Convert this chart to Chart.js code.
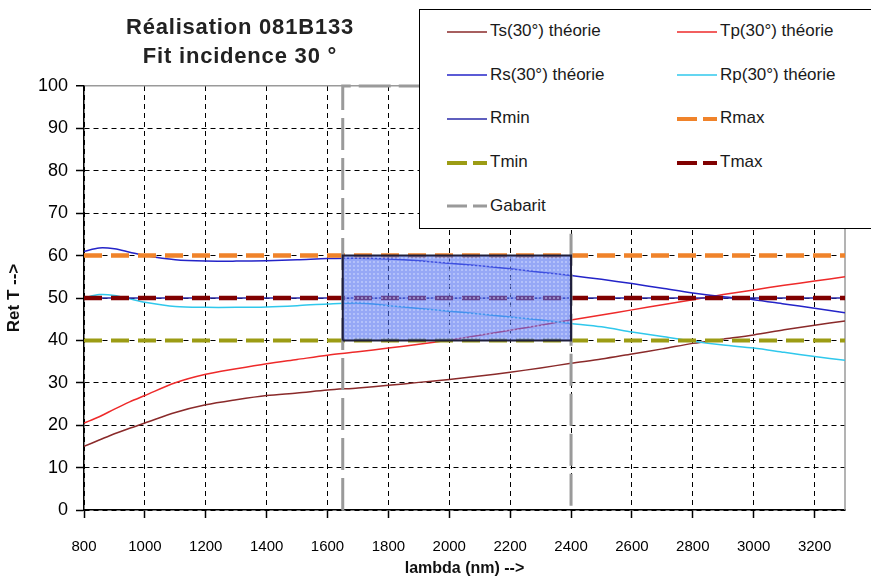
<!DOCTYPE html>
<html>
<head>
<meta charset="utf-8">
<script src="https://cdn.jsdelivr.net/npm/chart.js@4/dist/chart.umd.min.js"></script>
<style>
  body { margin: 0; background: #fff; font-family: "Liberation Sans", Arial, sans-serif; }
  #wrap { position: relative; width: 871px; height: 584px; overflow: hidden; }
  .title { position: absolute; left: 0; width: 480px; text-align: center; font-weight: bold; font-size: 22px; line-height: 26px; letter-spacing: 0.8px; color: #222; }
  #legend { position: absolute; left: 419px; top: 9px; width: 470px; height: 218px; border: 1.5px solid #000; background: #fff; }
  .item { position: absolute; height: 20px; font-size: 17px; line-height: 20px; color: #1a1a1a; white-space: nowrap; }
  .item svg { vertical-align: middle; margin-right: 3px; }
</style>
</head>
<body>
<div id="wrap">
  <canvas id="chart" width="871" height="584"></canvas>
  <div class="title" style="top:14px">Réalisation 081B133</div>
  <div class="title" style="top:43px">Fit incidence 30 °</div>
  <div id="legend"></div>
</div>
<script>
// longueurs d'onde (nm)
const lambda = [800, 850, 900, 950, 1000, 1100, 1200, 1300, 1400, 1500, 1600, 1700, 1800, 1900, 2000,
  2100, 2200, 2300, 2400, 2500, 2600, 2700, 2800, 2900, 3000, 3100, 3200, 3300];

// courbes théoriques (%)
const tsTheory = [15, 16.5, 18, 19.3, 20.5, 23, 24.8, 26, 27, 27.6, 28.3, 28.8, 29.4, 30.1, 30.8,
  31.6, 32.5, 33.5, 34.6, 35.6, 36.8, 38, 39.3, 40.3, 41.3, 42.5, 43.6, 44.6];
const tpTheory = [20.5, 22, 23.8, 25.5, 27, 30, 32, 33.3, 34.5, 35.5, 36.5, 37.3, 38.2, 39.1, 40.1,
  41.2, 42.4, 43.6, 44.8, 46, 47.2, 48.4, 49.6, 50.8, 51.9, 53, 54, 55];
const rsTheory = [61, 61.8, 61.6, 60.8, 60, 59, 58.7, 58.7, 58.8, 59, 59.3, 59.4, 59.2, 58.8, 58.2,
  57.6, 56.9, 56.1, 55.3, 54.4, 53.4, 52.3, 51.2, 50.3, 49.6, 48.6, 47.6, 46.5];
const rpTheory = [50, 50.8, 50.6, 49.8, 49, 48, 47.8, 47.8, 47.9, 48.2, 48.6, 48.8, 48.2, 47.5, 46.9,
  46.2, 45.5, 44.8, 44, 43.2, 42, 40.9, 39.8, 38.9, 38.2, 37.2, 36.2, 35.3];

// niveaux horizontaux
const levelX = [800, 3300];
const rmin = [50, 50];
const rmax = [60, 60];
const tmin = [40, 40];
const tmax = [50, 50];

// gabarit et zone spécifiée
const gabaritX = [1650, 1650, 2400, 2400];
const gabaritY = [0, 100, 100, 0];
const zoneX = [1650, 1650, 2400, 2400, 1650];
const zoneY = [40, 60, 60, 40, 40];

// graduations
const xTickValues = [800, 1000, 1200, 1400, 1600, 1800, 2000, 2200, 2400, 2600, 2800, 3000, 3200];
const yTickValues = [0, 10, 20, 30, 40, 50, 60, 70, 80, 90, 100];

const pts = (xs, ys) => xs.map((x, i) => ({ x: x, y: ys[i] }));

function zonePattern() {
  const c = document.createElement("canvas");
  c.width = 4; c.height = 4;
  const g = c.getContext("2d");
  g.fillStyle = "rgba(80,110,240,0.6)";
  g.fillRect(0, 0, 4, 4);
  g.fillStyle = "rgba(215,225,255,0.45)";
  g.fillRect(1, 1, 2, 2);
  return g.createPattern(c, "repeat");
}

// séries dans l'ordre de la légende
const series = [
  { label: "Ts(30°) théorie", xs: lambda, ys: tsTheory, color: "#8a2a2a", width: 1.5, dash: [], smooth: true },
  { label: "Tp(30°) théorie", xs: lambda, ys: tpTheory, color: "#ee2a2a", width: 1.5, dash: [], smooth: true },
  { label: "Rs(30°) théorie", xs: lambda, ys: rsTheory, color: "#2424c8", width: 1.5, dash: [], smooth: true },
  { label: "Rp(30°) théorie", xs: lambda, ys: rpTheory, color: "#30c8ec", width: 1.5, dash: [], smooth: true },
  { label: "Rmin", xs: levelX, ys: rmin, color: "#2a2aa8", width: 1.5, dash: [] },
  { label: "Rmax", xs: levelX, ys: rmax, color: "#f0832a", width: 4.5, dash: [18, 9] },
  { label: "Tmin", xs: levelX, ys: tmin, color: "#9c9c14", width: 4, dash: [18, 9] },
  { label: "Tmax", xs: levelX, ys: tmax, color: "#800000", width: 4.5, dash: [18, 9] },
  { label: "Gabarit", xs: gabaritX, ys: gabaritY, color: "#9a9a9a", width: 3, dash: [32, 8], noClip: true }
];

const datasets = series.map(s => ({
  label: s.label,
  data: pts(s.xs, s.ys),
  showLine: true,
  borderColor: s.color,
  borderWidth: s.width,
  borderDash: s.dash,
  pointRadius: 0,
  tension: s.smooth ? 0.3 : 0,
  fill: false,
  clip: s.noClip ? false : undefined
})).reverse();

// rectangle hachuré par-dessus
datasets.unshift({
  label: "zone",
  data: pts(zoneX, zoneY),
  showLine: true,
  borderColor: "#1e1e3c",
  borderWidth: 2,
  backgroundColor: zonePattern(),
  fill: "shape",
  pointRadius: 0,
  tension: 0
});

// légende encadrée
const legend = document.getElementById("legend");
series.forEach((s, i) => {
  const col = i % 2, row = Math.floor(i / 2);
  const item = document.createElement("div");
  item.className = "item";
  item.style.left = (col ? 257 : 27) + "px";
  item.style.top = (11 + row * 43.7) + "px";
  const dash = s.dash.length ? 'stroke-dasharray="20 6"' : "";
  item.innerHTML = '<svg width="40" height="8"><line x1="0" y1="4" x2="40" y2="4" stroke="' + s.color +
    '" stroke-width="' + Math.min(s.width, 4) + '" ' + dash + '/></svg>' + s.label;
  legend.appendChild(item);
});

const frame = {
  id: "frame",
  beforeDatasetsDraw(chart) {
    const a = chart.chartArea, ctx = chart.ctx;
    ctx.save();
    ctx.strokeStyle = "#9a9a9a";
    ctx.lineWidth = 1.5;
    ctx.beginPath();
    ctx.moveTo(a.right, a.top);
    ctx.lineTo(a.right, a.bottom);
    ctx.stroke();
    ctx.restore();
  }
};

const isTop = c => c.tick && c.tick.value === 100;

new Chart(document.getElementById("chart"), {
  type: "scatter",
  data: { datasets: datasets },
  plugins: [frame],
  options: {
    responsive: false,
    animation: false,
    layout: { padding: { top: 86, right: 26, left: 0, bottom: 0 } },
    plugins: { legend: { display: false }, tooltip: { enabled: false }, title: { display: false } },
    scales: {
      x: {
        type: "linear", min: 800, max: 3300,
        afterBuildTicks: s => { s.ticks = xTickValues.map(v => ({ value: v })); },
        afterFit: s => { s.height = 74; },
        ticks: { font: { family: "Liberation Sans", size: 15 }, color: "#000", padding: 20, maxRotation: 0,
          autoSkip: false, callback: v => String(v) },
        grid: { color: "#000", lineWidth: 1, tickLength: 8, tickColor: "#000", tickWidth: 1.5 },
        border: { color: "#000", width: 1.5, dash: [5, 4] },
        title: { display: true, text: "lambda (nm) -->", color: "#111",
          font: { family: "Liberation Sans", size: 16, weight: "bold" }, padding: { top: 0, bottom: 6 } }
      },
      y: {
        min: 0, max: 100,
        afterBuildTicks: s => { s.ticks = yTickValues.map(v => ({ value: v })); },
        afterFit: s => { s.width = 84; },
        ticks: { font: { family: "Liberation Sans", size: 18 }, color: "#000", padding: 8, callback: v => String(v) },
        grid: { color: c => isTop(c) ? "#9a9a9a" : "#000", lineWidth: c => isTop(c) ? 1.5 : 1,
          tickLength: 8, tickColor: "#000", tickWidth: 1.5 },
        border: { color: "#000", width: 1.5, dash: c => isTop(c) ? [] : [5, 4] },
        title: { display: true, text: "Ret T -->", color: "#111",
          font: { family: "Liberation Sans", size: 17, weight: "bold" }, padding: { top: 4, bottom: 0 } }
      }
    }
  }
});
</script>
</body>
</html>
